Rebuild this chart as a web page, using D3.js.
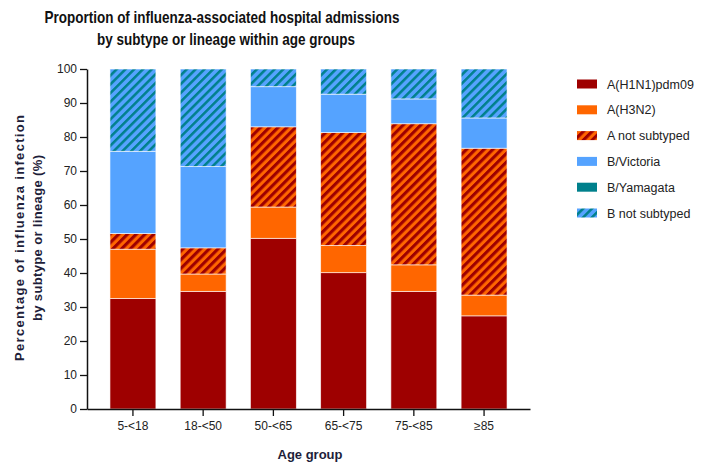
<!DOCTYPE html>
<html>
<head>
<meta charset="utf-8">
<script src="https://cdn.jsdelivr.net/npm/d3@7"></script>
<style>
  html, body { margin: 0; padding: 0; background: #fff; }
  svg { display: block; font-family: "Liberation Sans", Arial, sans-serif; }
</style>
</head>
<body>
<svg id="chart" width="721" height="463"></svg>
<script>
// Age groups and percentage share of each subtype / lineage (stacked to 100%)
const ageGroups   = ["5-<18", "18-<50", "50-<65", "65-<75", "75-<85", "≥85"];
const h1n1        = [32.5, 34.6, 50.2, 40.1, 34.6, 27.4];
const h3n2        = [14.5,  5.1,  9.2,  8.0,  7.8,  6.1];
const aNotTyped   = [ 4.6,  7.7, 23.6, 33.2, 41.5, 43.2];
const bVictoria   = [24.2, 23.9, 11.8, 11.3,  7.3,  8.9];
const bYamagata   = [ 0.0,  0.0,  0.0,  0.0,  0.0,  0.0];
const bNotTyped   = [24.2, 28.7,  5.2,  7.4,  8.8, 14.4];
const seriesNames = ["A(H1N1)pdm09", "A(H3N2)", "A not subtyped", "B/Victoria", "B/Yamagata", "B not subtyped"];
const yTicks      = [0, 10, 20, 30, 40, 50, 60, 70, 80, 90, 100];

const seriesValues = [h1n1, h3n2, aNotTyped, bVictoria, bYamagata, bNotTyped];
const rows = ageGroups.map((g, i) => {
  const r = { group: g };
  seriesNames.forEach((s, k) => { r[s] = seriesValues[k][i]; });
  return r;
});

const fills = {
  "A(H1N1)pdm09": "#9e0000",
  "A(H3N2)": "#ff6600",
  "A not subtyped": "url(#hatchA)",
  "B/Victoria": "#55a3ff",
  "B/Yamagata": "#00808c",
  "B not subtyped": "url(#hatchB)"
};

const svg = d3.select("#chart");
const defs = svg.append("defs");

// Diagonal stripe fills for the "not subtyped" categories
function stripes(id, bg, fg, period, stripeW) {
  const p = defs.append("pattern")
    .attr("id", id)
    .attr("patternUnits", "userSpaceOnUse")
    .attr("width", period).attr("height", period)
    .attr("patternTransform", "rotate(45)");
  p.append("rect").attr("width", period).attr("height", period).attr("fill", bg);
  p.append("rect").attr("width", stripeW).attr("height", period).attr("fill", fg);
}
stripes("hatchA", "#ff6600", "#9e0000", 6.2, 3.1);
stripes("hatchB", "#55a3ff", "#00808c", 6.2, 2.5);

const x = d3.scaleBand().domain(ageGroups).range([87, 530])
  .paddingInner(0.346).paddingOuter(0.327);
const y = d3.scaleLinear().domain([0, 100]).range([409, 69]);

const stacked = d3.stack().keys(seriesNames)(rows);

// Bars
const layers = svg.append("g").selectAll("g")
  .data(stacked).join("g")
  .attr("fill", d => fills[d.key]);

layers.selectAll("rect")
  .data(d => d.map(v => ({ v, key: d.key })))
  .join("rect")
  .attr("x", d => x(d.v.data.group))
  .attr("width", x.bandwidth())
  .attr("y", d => y(d.v[1]))
  .attr("height", d => Math.max(0, y(d.v[0]) - y(d.v[1])))
  .attr("stroke", "#fff")
  .attr("stroke-width", 0.8)
  .attr("stroke-opacity", d => (d.v[1] - d.v[0]) > 0 ? 0.75 : 0);

// Y axis
const yAxis = svg.append("g")
  .attr("transform", "translate(87,0)")
  .call(d3.axisLeft(y).tickValues(yTicks).tickSize(7).tickSizeOuter(0).tickPadding(3));
yAxis.select(".domain").attr("stroke", "#111").attr("stroke-width", 1.5);
yAxis.selectAll(".tick line").attr("stroke", "#111").attr("stroke-width", 1.3);
yAxis.selectAll(".tick text").attr("font-size", 12).attr("fill", "#222")
  .attr("font-family", "'Liberation Sans', Arial, sans-serif");

// X axis
const xAxis = svg.append("g")
  .attr("transform", "translate(0,409)")
  .call(d3.axisBottom(x).tickSize(7).tickSizeOuter(0).tickPadding(5));
xAxis.select(".domain").attr("stroke", "#111").attr("stroke-width", 1.5);
xAxis.selectAll(".tick line").attr("stroke", "#111").attr("stroke-width", 1.3);
xAxis.selectAll(".tick text").attr("font-size", 12).attr("fill", "#222")
  .attr("font-family", "'Liberation Sans', Arial, sans-serif");

// Title
const title = svg.append("g").attr("font-weight", "bold").attr("font-size", 17)
  .attr("fill", "#111").attr("text-anchor", "middle")
  .attr("font-family", "'Liberation Sans Narrow', 'Liberation Sans', Arial, sans-serif");
title.append("text").attr("x", 222).attr("y", 23)
  .attr("textLength", 355).attr("lengthAdjust", "spacingAndGlyphs")
  .text("Proportion of influenza-associated hospital admissions");
title.append("text").attr("x", 226).attr("y", 45)
  .attr("textLength", 258).attr("lengthAdjust", "spacingAndGlyphs")
  .text("by subtype or lineage within age groups");

// Axis titles
const yTitle = svg.append("g").attr("font-weight", "bold").attr("font-size", 13)
  .attr("fill", "#1e1e3a").attr("text-anchor", "middle")
  .attr("transform", "translate(0,238) rotate(-90)");
yTitle.append("text").attr("x", 0).attr("y", 24)
  .attr("textLength", 246).attr("lengthAdjust", "spacing")
  .text("Percentage of influenza infection");
yTitle.append("text").attr("x", 0).attr("y", 42)
  .attr("textLength", 166).attr("lengthAdjust", "spacing")
  .text("by subtype or lineage (%)");

svg.append("text").attr("x", 310).attr("y", 459)
  .attr("text-anchor", "middle").attr("font-weight", "bold").attr("font-size", 13)
  .attr("fill", "#1e1e3a").text("Age group");

// Legend
const legend = svg.append("g").selectAll("g")
  .data(seriesNames).join("g")
  .attr("transform", (d, i) => `translate(577,${84 + i * 25.8})`);
legend.append("rect").attr("x", 0).attr("y", -4.5).attr("width", 20).attr("height", 9)
  .attr("fill", d => fills[d]);
legend.append("text").attr("x", 30).attr("y", 4.5)
  .attr("font-size", 12.5).attr("fill", "#222").text(d => d);
</script>
</body>
</html>
